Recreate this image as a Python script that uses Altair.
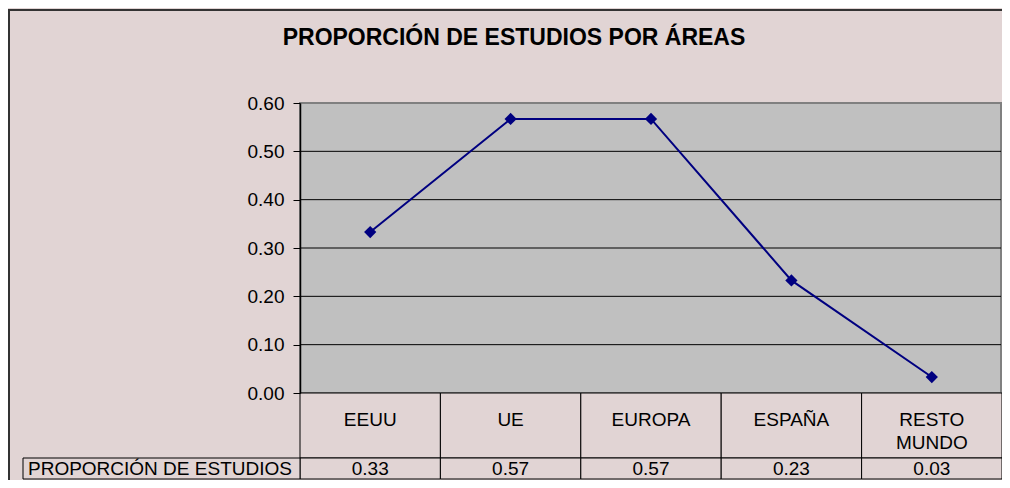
import altair as alt
import pandas as pd

categories = ["EEUU", "UE", "EUROPA", "ESPAÑA", "RESTO\nMUNDO"]
values = [0.333, 0.567, 0.567, 0.233, 0.033]
y_ticks = [0.0, 0.1, 0.2, 0.3, 0.4, 0.5, 0.6]
grid_values = [0.1, 0.2, 0.3, 0.4, 0.5]
title_text = "PROPORCIÓN DE ESTUDIOS POR ÁREAS"
row_label = "PROPORCIÓN DE ESTUDIOS"

W = 702
H = 377
PLOT_H = 290
HEADER_BOTTOM = 355
STEP = W / len(categories)
FONT = "Liberation Sans"
FS = 19
NAVY = "#000080"
BG = "#E1D4D4"

df = pd.DataFrame({"cat": categories, "val": values})
grid_df = pd.DataFrame({"g": grid_values})

xscale = alt.Scale(type="point", padding=0.5, domain=categories, range=[0, W])
yscale = alt.Scale(domain=[0, 0.6], range=[PLOT_H, 0], nice=False, zero=False)

base = alt.Chart(df)

# plot area background (gray) with gray border
plot_bg = alt.Chart(pd.DataFrame({"a": [0]})).mark_rect(
    fill="#C0C0C0", stroke="#808080", strokeWidth=2
).encode(
    x=alt.value(0), x2=alt.value(W - 1),
    y=alt.datum(0.6, scale=yscale), y2=alt.datum(0.0),
)

grid = alt.Chart(grid_df).mark_rule(color="black", strokeWidth=1).encode(
    y=alt.Y("g:Q", scale=yscale, axis=alt.Axis(
        values=y_ticks, format=".2f", title=None, grid=False,
        labelFontSize=FS, labelFont=FONT, labelColor="black",
        tickSize=7, tickColor="black", tickWidth=1,
        domainColor="black", domainWidth=1.5, labelPadding=9, zindex=1,
    )),
    x=alt.value(0), x2=alt.value(W - 1),
)

# data table cells
header_cells = base.mark_rect(width=STEP, fill=BG, stroke="black", strokeWidth=1).encode(
    x=alt.X("cat:N", scale=xscale, axis=None, sort=categories),
    y=alt.value(PLOT_H), y2=alt.value(HEADER_BOTTOM),
)
value_cells = base.mark_rect(width=STEP, fill=BG, stroke="black", strokeWidth=1).encode(
    x=alt.X("cat:N", scale=xscale, axis=None, sort=categories),
    y=alt.value(HEADER_BOTTOM), y2=alt.value(H - 1),
)
label_cell = alt.Chart(pd.DataFrame({"a": [0]})).mark_rect(
    fill=BG, stroke="black", strokeWidth=1
).encode(
    x=alt.value(-277), x2=alt.value(0),
    y=alt.value(HEADER_BOTTOM), y2=alt.value(H - 1),
)

line = base.mark_line(color=NAVY, strokeWidth=2).encode(
    x=alt.X("cat:N", scale=xscale, axis=None, sort=categories),
    y=alt.Y("val:Q", scale=yscale),
)
points = base.mark_point(shape="diamond", filled=True, color=NAVY, size=150, opacity=1).encode(
    x=alt.X("cat:N", scale=xscale, axis=None, sort=categories),
    y=alt.Y("val:Q", scale=yscale),
)

cat_text = base.mark_text(
    font=FONT, fontSize=FS, color="black", lineBreak="\n", lineHeight=23, baseline="middle"
).encode(
    x=alt.X("cat:N", scale=xscale, axis=None, sort=categories),
    y=alt.value(317),
    text="cat:N",
)
val_text = base.mark_text(font=FONT, fontSize=FS, color="black", baseline="middle").encode(
    x=alt.X("cat:N", scale=xscale, axis=None, sort=categories),
    y=alt.value(366),
    text=alt.Text("val:Q", format=".2f"),
)
row_text = alt.Chart(pd.DataFrame({"t": [row_label]})).mark_text(
    font=FONT, fontSize=FS, color="black", align="left", baseline="middle"
).encode(x=alt.value(-272), y=alt.value(366), text="t:N")

title = alt.Chart(pd.DataFrame({"t": [title_text]})).mark_text(
    font=FONT, fontSize=23, fontWeight="bold", color="black", align="center", baseline="middle"
).encode(x=alt.value(214), y=alt.value(-65), text="t:N")

frame_top = alt.Chart(pd.DataFrame({"a": [0]})).mark_rule(color="#333333", strokeWidth=2).encode(
    x=alt.value(-292), x2=alt.value(W), y=alt.value(-93)
)
frame_left = alt.Chart(pd.DataFrame({"a": [0]})).mark_rule(color="#333333", strokeWidth=2).encode(
    x=alt.value(-291), y=alt.value(-93), y2=alt.value(H)
)

chart = alt.layer(
    plot_bg, grid, header_cells, value_cells, label_cell,
    line, points, cat_text, val_text, row_text, title, frame_top, frame_left,
).properties(
    width=W, height=H,
    autosize=alt.AutoSizeParams(type="none"),
    padding={"left": 292, "top": 95, "right": 0, "bottom": 0},
    background=BG,
).configure_view(stroke=None, fill=None)

chart.save("out.html", embed_options={"renderer": "svg", "actions": False})
